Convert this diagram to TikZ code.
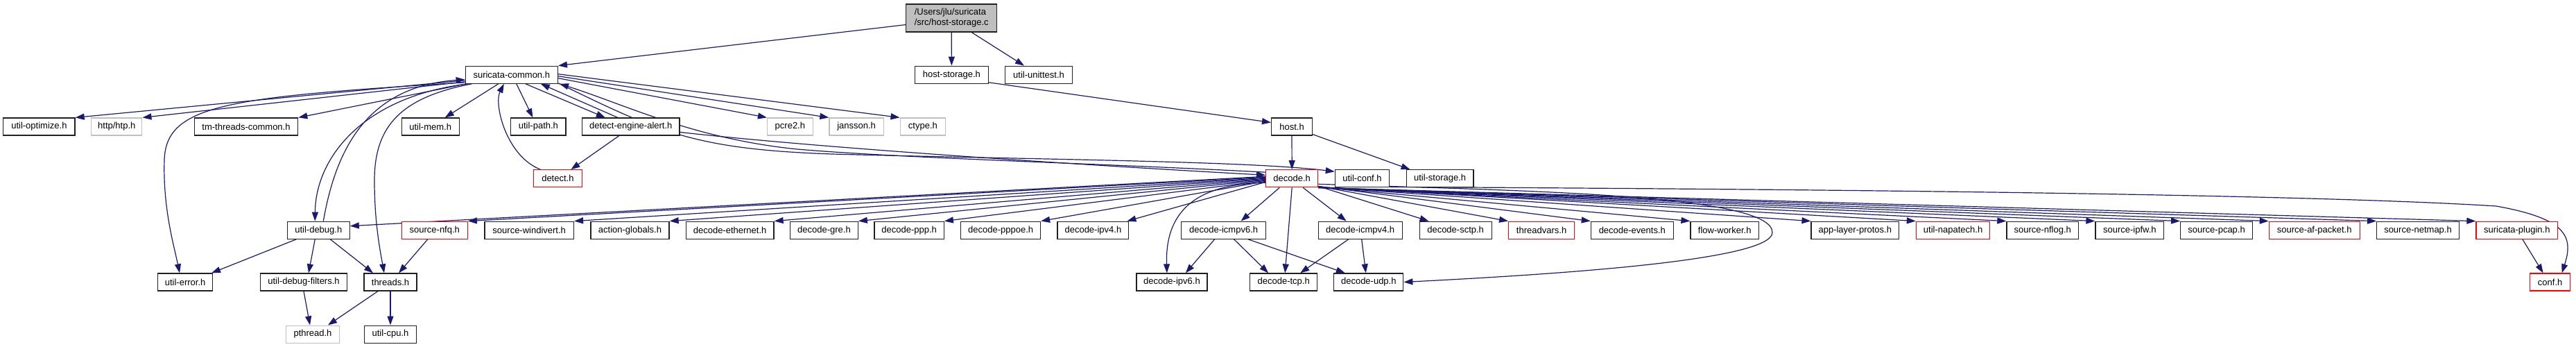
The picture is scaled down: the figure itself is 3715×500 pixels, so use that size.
\documentclass[tikz,border=0pt]{standalone}
\usepackage{fontspec}
\setmainfont{Liberation Sans}
\usetikzlibrary{arrows.meta,calc}
\definecolor{edgeblue}{HTML}{191970}
\definecolor{greyA}{HTML}{BFBFBF}
\definecolor{greyB}{HTML}{202020}
\definecolor{trunc}{HTML}{FF0000}
\pgfdeclarelayer{edges}
\pgfsetlayers{edges,main}
\tikzset{
  box/.style={draw=greyB, line width=1.2pt, fill=white, minimum height=25pt, inner sep=0pt,
              font=\fontsize{13}{15}\selectfont},
  redbox/.style={box, draw=trunc},
  extbox/.style={box, draw=greyA},
  mainbox/.style={box, fill=greyA, minimum height=40pt, align=left},
  edge/.style={draw=edgeblue, line width=1.2pt, -{Triangle[length=13pt,width=9pt]}}
}
\begin{document}
\begin{tikzpicture}[x=1pt,y=-1pt]
\useasboundingbox (0,0) rectangle (3715,500);
% row 1
\node[mainbox, minimum width=130.8] (top) at (1372.2,26) {/Users/jlu/suricata\\/src/host-storage.c};
% row 2
\node[box, minimum width=133.2] (sc) at (737.8,107.7) {suricata-common.h};
\node[box, minimum width=106] (hs) at (1372.4,107.7) {host-storage.h};
\node[box, minimum width=97.7] (uu) at (1498,107.7) {util-unittest.h};
% row 3
\node[box, minimum width=103.3] (uopt) at (56.4,182.5) {util-optimize.h};
\node[extbox, minimum width=73.1] (htp) at (168.3,182.5) {http/htp.h};
\node[box, minimum width=149.5] (tmt) at (355,182.5) {tm-threads-common.h};
\node[box, minimum width=82.8] (umem) at (620.7,182.5) {util-mem.h};
\node[box, minimum width=79.1] (upath) at (776.4,182.5) {util-path.h};
\node[box, minimum width=140.4] (dea) at (909.8,182.5) {detect-engine-alert.h};
\node[extbox, minimum width=65.7] (pcre) at (1139.4,182.5) {pcre2.h};
\node[extbox, minimum width=78.4] (jans) at (1235.1,182.5) {jansson.h};
\node[extbox, minimum width=65.6] (ctype) at (1330.9,182.5) {ctype.h};
\node[box, minimum width=58.9] (host) at (1863,182.5) {host.h};
% row 4
\node[redbox, minimum width=69.6] (detect) at (804.4,257.3) {detect.h};
\node[redbox, minimum width=75.1] (decode) at (1863.2,257.3) {decode.h};
\node[box, minimum width=78.3] (uconf) at (1964.5,257.3) {util-conf.h};
\node[box, minimum width=96.8] (ustor) at (2076.6,257.3) {util-storage.h};
% row 5
\node[box, minimum width=89.8] (udebug) at (459.3,331.7) {util-debug.h};
\node[redbox, minimum width=95] (nfq) at (626.8,331.7) {source-nfq.h};
\node[box, minimum width=128.5] (windivert) at (763.2,331.7) {source-windivert.h};
\node[box, minimum width=113.1] (actglob) at (908.5,331.7) {action-globals.h};
\node[box, minimum width=126.9] (deth) at (1052.6,331.7) {decode-ethernet.h};
\node[box, minimum width=97.5] (dgre) at (1188.5,331.7) {decode-gre.h};
\node[box, minimum width=100.4] (dppp) at (1311.1,331.7) {decode-ppp.h};
\node[box, minimum width=114.7] (dpppoe) at (1443.2,331.7) {decode-pppoe.h};
\node[box, minimum width=102.8] (dipv4) at (1576.4,331.7) {decode-ipv4.h};
\node[box, minimum width=121.5] (dicmp6) at (1764.6,331.7) {decode-icmpv6.h};
\node[box, minimum width=121] (dicmp4) at (1961.7,331.7) {decode-icmpv4.h};
\node[box, minimum width=104] (dsctp) at (2099.1,331.7) {decode-sctp.h};
\node[redbox, minimum width=95] (tvars) at (2223.1,331.7) {threadvars.h};
\node[box, minimum width=119] (devents) at (2353.8,331.7) {decode-events.h};
\node[box, minimum width=98.4] (fworker) at (2487.2,331.7) {flow-worker.h};
\node[box, minimum width=126.5] (alproto) at (2675.3,331.7) {app-layer-protos.h};
\node[redbox, minimum width=106.4] (napatech) at (2816.6,331.7) {util-napatech.h};
\node[box, minimum width=103.6] (nflog) at (2945.7,331.7) {source-nflog.h};
\node[box, minimum width=98.9] (ipfw) at (3071.4,331.7) {source-ipfw.h};
\node[box, minimum width=103.9] (pcap) at (3196.6,331.7) {source-pcap.h};
\node[redbox, minimum width=130.9] (afpacket) at (3337.7,331.7) {source-af-packet.h};
\node[box, minimum width=118.6] (netmap) at (3487,331.7) {source-netmap.h};
\node[redbox, minimum width=117.7] (splugin) at (3629.8,331.7) {suricata-plugin.h};
% row 6
\node[box, minimum width=78.6] (uerror) at (267.1,406.5) {util-error.h};
\node[box, minimum width=125.3] (udf) at (438,406.5) {util-debug-filters.h};
\node[box, minimum width=75.9] (threads) at (563,406.5) {threads.h};
\node[box, minimum width=102] (dipv6) at (1689.9,406.5) {decode-ipv6.h};
\node[box, minimum width=96.8] (dtcp) at (1851.2,406.5) {decode-tcp.h};
\node[box, minimum width=100] (dudp) at (1973.8,406.5) {decode-udp.h};
\node[redbox, minimum width=58.4] (conf) at (3677.6,406.5) {conf.h};
% row 7
\node[extbox, minimum width=76.3] (pthread) at (451,481.6) {pthread.h};
\node[box, minimum width=74.3] (ucpu) at (563,481.6) {util-cpu.h};

\begin{pgfonlayer}{edges}
% ---- edges from main file
\draw[edge] ($(top.south west)+(0,-11)$) -- (sc.north east);
\draw[edge] (top.south) -- (hs.north);
\draw[edge] ($(top.south)+(29,0)$) -- ($(uu.north)+(-21,0)$);
\draw[edge] ($(hs.south east)+(0,-2)$) -- ($(host.west)+(0,-6)$);
\draw[edge] (host.south) -- (decode.north);
\draw[edge] ($(host.south east)+(0,-2)$) -- ($(ustor.north west)+(6,0)$);

% ---- suricata-common
\draw[edge] ($(sc.south west)+(0,-5)$) -- (uopt.north east);
\draw[edge] ($(sc.south west)+(0,-3)$) -- (htp.north east);
\draw[edge] ($(sc.south west)+(2,0)$) -- (tmt.north east);
\draw[edge] ($(sc.south)+(-19,0)$) -- ($(umem.north)+(21,0)$);
\draw[edge] ($(sc.south)+(7,0)$) -- ($(upath.north)+(-8,0)$);
\draw[edge] ($(sc.south)+(20,0)$) -- ($(dea.north)+(-37,0)$);
\draw[edge] ($(dea.north)+(-19,0)$) -- ($(sc.south)+(42,0)$);
\draw[edge] ($(sc.east)+(0,5)$) -- (pcre.north west);
\draw[edge] ($(sc.east)+(0,2)$) -- (jans.north west);
\draw[edge] ($(sc.east)+(0,-1)$) -- (ctype.north west);
\draw[edge] ($(sc.south west)+(0,-2)$) .. controls (330,140) and (240,150) .. (237,230)
   .. controls (235,300) and (250,350) .. ($(uerror.north)+(-8,0)$);
\draw[edge] ($(sc.south west)+(4,0)$) .. controls (520,140) and (455,230) .. ($(udebug.north)+(-5,0)$);
\draw[edge] ($(udebug.north)+(7,0)$) .. controls (482,230) and (520,125) .. ($(sc.west)+(0,7)$);
\draw[edge] ($(sc.south west)+(10,0)$) .. controls (580,140) and (540,180) .. (540,260)
   .. controls (540,320) and (548,360) .. ($(threads.north)+(-9,0)$);
\draw[edge] ($(detect.north)+(-25,0)$) .. controls (730,225) and (712,150) .. ($(sc.south)+(-11,0)$);
\draw[edge] ($(dea.south)+(-17,0)$) -- ($(detect.north)+(19,0)$);
\draw[edge] ($(sc.south east)+(0,-1)$) .. controls (950,190) and (1000,215) .. (1200,222)
   .. controls (1500,230) and (1800,232) .. ($(uconf.north west)+(0,3)$);
\draw[edge] ($(decode.north west)+(0,4)$) .. controls (1600,236) and (1300,228) .. (1150,215)
   .. controls (1000,200) and (900,150) .. ($(sc.south east)+(2,0)$);
\draw[edge] ($(dea.east)+(0,8)$) .. controls (1200,215) and (1600,240) .. ($(decode.west)+(0,-5)$);

% ---- util-debug / threads
\draw[edge] ($(udebug.south)+(-32,0)$) -- ($(uerror.north east)+(-2,0)$);
\draw[edge] ($(udebug.south)+(-5,0)$) -- ($(udf.north)+(7,0)$);
\draw[edge] ($(udebug.south)+(17,0)$) -- ($(threads.north)+(-25,0)$);
\draw[edge] ($(nfq.south)+(-10,0)$) -- ($(threads.north)+(12,0)$);
\draw[edge] (udf.south) -- ($(pthread.north)+(-4,0)$);
\draw[edge] ($(threads.south)+(-18,0)$) -- ($(pthread.north)+(22,0)$);
\draw[edge] (threads.south) -- (ucpu.north);

% ---- decode.h leftwards
\draw[edge] ($(decode.west)+(0,-3)$) -- ($(udebug.east)+(0,-6)$);
\draw[edge] ($(decode.west)+(0,-2)$) -- (nfq.north east);
\draw[edge] ($(decode.west)+(0,-1)$) -- (windivert.north east);
\draw[edge] ($(decode.west)+(0,0)$) -- (actglob.north east);
\draw[edge] ($(decode.west)+(0,1)$) -- (deth.north east);
\draw[edge] ($(decode.west)+(0,2)$) -- (dgre.north east);
\draw[edge] ($(decode.west)+(0,3)$) -- (dppp.north east);
\draw[edge] ($(decode.west)+(0,4)$) -- (dpppoe.north east);
\draw[edge] ($(decode.west)+(0,5)$) -- ($(dipv4.north east)+(-3,0)$);
\draw[edge] ($(decode.west)+(0,6)$) .. controls (1730,265) and (1680,300) .. ($(dipv6.north)+(-7,0)$);
\draw[edge] ($(decode.south)+(-18,0)$) -- ($(dicmp6.north)+(25,0)$);
\draw[edge] (decode.south) -- ($(dtcp.north)+(2,0)$);
\draw[edge] ($(decode.south)+(16,0)$) -- ($(dicmp4.north)+(-20,0)$);
% ---- decode.h rightwards
\draw[edge] ($(decode.south east)+(0,-2)$) -- ($(dsctp.north west)+(14,0)$);
\draw[edge] ($(decode.south east)+(0,-2)$) -- (tvars.north west);
\draw[edge] ($(decode.south east)+(0,-2)$) -- (devents.north west);
\draw[edge] ($(decode.south east)+(0,-1)$) -- (fworker.north west);
\draw[edge] ($(decode.south east)+(0,-1)$) -- (alproto.north west);
\draw[edge] ($(decode.south east)+(0,-1)$) -- (napatech.north west);
\draw[edge] (decode.south east) -- (nflog.north west);
\draw[edge] (decode.south east) -- (ipfw.north west);
\draw[edge] (decode.south east) -- (pcap.north west);
\draw[edge] (decode.south east) -- (afpacket.north west);
\draw[edge] (decode.south east) -- (netmap.north west);
\draw[edge] (decode.south east) -- (splugin.north west);
\draw[edge] ($(decode.east)+(0,8)$) .. controls (2200,275) and (2556,280) .. (2556,335)
   .. controls (2556,375) and (2250,395) .. (dudp.east);

% ---- decode-icmp
\draw[edge] ($(dicmp6.south)+(-13,0)$) -- ($(dipv6.north)+(20,0)$);
\draw[edge] ($(dicmp6.south)+(15,0)$) -- ($(dtcp.north)+(-22,0)$);
\draw[edge] ($(dicmp6.south east)+(-26,0)$) -- ($(dudp.north)+(-34,0)$);
\draw[edge] ($(dicmp4.south)+(-17,0)$) -- ($(dtcp.north)+(24,0)$);
\draw[edge] ($(dicmp4.south)+(2,0)$) -- ($(dudp.north)+(-4,0)$);

% ---- conf
\draw[edge] ($(uconf.south east)+(0,-1)$) .. controls (2500,272) and (3300,278) .. (3600,297)
   .. controls (3700,315) and (3712,340) .. ($(conf.north)+(17,0)$);
\draw[edge] ($(splugin.south)+(8,0)$) -- ($(conf.north)+(-10,0)$);
\end{pgfonlayer}
\end{tikzpicture}
\end{document}
